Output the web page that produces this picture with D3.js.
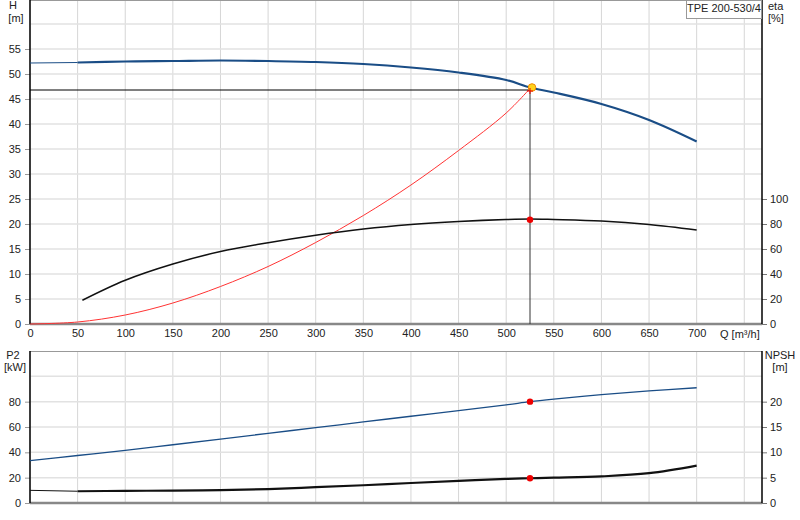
<!DOCTYPE html><html><head><script src="https://cdn.jsdelivr.net/npm/d3@7"></script>
<style>body{margin:0;background:#fff}text{font-family:"Liberation Sans",Arial,sans-serif;font-size:11px;fill:#222}</style></head><body><svg id="c" width="800" height="520"></svg><script>
const qH=[0,50,100,150,200,250,300,350,400,450,500,525,550,600,650,700];
const H=[52.2,52.3,52.5,52.6,52.7,52.6,52.4,52.0,51.3,50.3,48.8,47.3,46.3,44.0,40.8,36.5];
const qEta=[55,100,150,200,250,300,350,400,450,500,525,550,600,650,700];
const eta=[19,35,48,58,65,71,76,79.6,82,83.6,84,83.6,82.4,79.6,75.2];
const qSys=[0,50,100,150,200,250,300,350,400,450,500,525];
const sysH=[0,0.4,1.8,4.2,7.5,11.5,16.3,21.7,27.8,34.7,42.2,47.1];
const qP=[0,50,100,150,200,250,300,350,400,450,500,525,550,600,650,700];
const P2=[33.5,37.5,41.5,46,50.5,55,59.5,64,68.5,73,77.5,80,82,85.5,88.5,91];
const NPSH=[2.5,2.32,2.4,2.45,2.55,2.75,3.12,3.5,3.95,4.38,4.75,4.88,5.0,5.25,5.88,7.38];
const dutyQ=525, dutyH=46.8, dutyEta=83.4, dutyP2=80, dutyNPSH=4.88;
const xTicks=[0,50,100,150,200,250,300,350,400,450,500,550,600,650,700];
const hTicks=[0,5,10,15,20,25,30,35,40,45,50,55];
const etaTicks=[0,20,40,60,80,100];
const pTicks=[0,20,40,60,80];
const nTicks=[0,5,10,15,20];
const svg=d3.select("#c");
const R=762;
const x=d3.scaleLinear([0,768.6],[30,R]);
const yH=d3.scaleLinear([0,64.8],[324,0]);
const yE=d3.scaleLinear([0,259.2],[324,0]);
const yP=d3.scaleLinear([0,120],[503,351]);
const yN=d3.scaleLinear([0,30],[503,351]);
const grid="#d6d6d6";
function panel(y,top,bot,gridVals){
  d3.range(0,801,50).forEach(v=>{if(x(v)<R)svg.append("line").attr("x1",x(v)).attr("x2",x(v)).attr("y1",top).attr("y2",bot).attr("stroke",grid)});
  gridVals.forEach(v=>svg.append("line").attr("x1",30).attr("x2",R).attr("y1",y(v)).attr("y2",y(v)).attr("stroke","#e2e2e2").attr("stroke-width",1.5));
  svg.append("line").attr("x1",30).attr("x2",R).attr("y1",top+0.5).attr("y2",top+0.5).attr("stroke","#999");
}
panel(yH,0,324,d3.range(5,61,5));
panel(yP,351,503,[20,40,60,80,100]);
function axisL(sc,ticks,x0){const g=svg.append("g").attr("transform",`translate(${x0},0)`).call(d3.axisLeft(sc).tickValues(ticks).tickSize(5).tickPadding(4));g.select(".domain").remove();g.selectAll("line").attr("stroke","#999");g.selectAll("text").style("font-size","11px");}
function axisR(sc,ticks,x0){const g=svg.append("g").attr("transform",`translate(${x0},0)`).call(d3.axisRight(sc).tickValues(ticks).tickSize(5).tickPadding(3));g.select(".domain").remove();g.selectAll("line").attr("stroke","#777");g.selectAll("text").style("font-size","11px");}
axisL(yH,hTicks,30);axisR(yE,etaTicks,R);axisL(yP,pTicks,30);axisR(yN,nTicks,R);
const gx=svg.append("g").attr("transform","translate(0,324)").call(d3.axisBottom(x).tickValues(xTicks).tickSize(0).tickPadding(5));
gx.select(".domain").remove();gx.selectAll("text").style("font-size","11px");
svg.append("line").attr("x1",30).attr("x2",R).attr("y1",324).attr("y2",324).attr("stroke","#888").attr("stroke-width",2.5);
svg.append("line").attr("x1",30).attr("x2",R).attr("y1",503).attr("y2",503).attr("stroke","#888").attr("stroke-width",2.5);
[[0,324],[351,503]].forEach(([a,b])=>{svg.append("line").attr("x1",30).attr("x2",30).attr("y1",a).attr("y2",b).attr("stroke","#000").attr("stroke-width",1.5);svg.append("line").attr("x1",R).attr("x2",R).attr("y1",a).attr("y2",b).attr("stroke","#000").attr("stroke-width",1.5);});
const ln=(xs,ys,sy)=>d3.line().curve(d3.curveCatmullRom)(xs.map((q,i)=>[x(q),sy(ys[i])]));
svg.append("path").attr("d",ln(qSys,sysH,yH)).attr("fill","none").attr("stroke","#f33").attr("stroke-width",1);
svg.append("path").attr("d",ln(qEta,eta,yE)).attr("fill","none").attr("stroke","#111").attr("stroke-width",1.5);
svg.append("path").attr("d",ln(qH.slice(0,2),H.slice(0,2),yH)).attr("fill","none").attr("stroke","#1a4d86").attr("stroke-width",1);
svg.append("path").attr("d",ln(qH.slice(1),H.slice(1),yH)).attr("fill","none").attr("stroke","#1a4d86").attr("stroke-width",2.2);
svg.append("path").attr("d",ln(qP,P2,yP)).attr("fill","none").attr("stroke","#1a4d86").attr("stroke-width",1.3);
svg.append("path").attr("d",ln(qP.slice(0,2),NPSH.slice(0,2),yN)).attr("fill","none").attr("stroke","#111").attr("stroke-width",1);
svg.append("path").attr("d",ln(qP.slice(1),NPSH.slice(1),yN)).attr("fill","none").attr("stroke","#111").attr("stroke-width",2.2);
svg.append("line").attr("x1",30).attr("x2",x(dutyQ)).attr("y1",yH(dutyH)).attr("y2",yH(dutyH)).attr("stroke","#000");
svg.append("line").attr("x1",x(dutyQ)).attr("x2",x(dutyQ)).attr("y1",yH(dutyH)).attr("y2",324).attr("stroke","#333");
svg.append("circle").attr("cx",x(dutyQ)).attr("cy",yE(dutyEta)).attr("r",3.2).attr("fill","#e00");
svg.append("circle").attr("cx",x(dutyQ)).attr("cy",yP(dutyP2)).attr("r",3.2).attr("fill","#e00");
svg.append("circle").attr("cx",x(dutyQ)).attr("cy",yN(dutyNPSH)).attr("r",3.2).attr("fill","#e00");
svg.append("circle").attr("cx",x(dutyQ)+2).attr("cy",yH(47.3)).attr("r",3.8).attr("fill","#ffd21a").attr("stroke","#f08a00");
svg.append("path").attr("d",`M${x(dutyQ)-3},${yH(dutyH)+1}h6M${x(dutyQ)},${yH(dutyH)-2}v6`).attr("stroke","#e00");
const t=(s,X,Y,a)=>svg.append("text").attr("x",X).attr("y",Y).attr("text-anchor",a||"middle").text(s);
t("H",13,9);t("[m]",16,22);t("eta",768,10,"start");t("[%]",768,22,"start");
t("P2",13,359);t("[kW]",15,371);t("NPSH",780,359);t("[m]",780,371);
t("Q [m³/h]",720,338,"start");
svg.append("rect").attr("x",686.5).attr("y",0.5).attr("width",75).attr("height",18).attr("fill","#fff").attr("stroke","#999");
t("TPE 200-530/4",724,12);
</script></body></html>
